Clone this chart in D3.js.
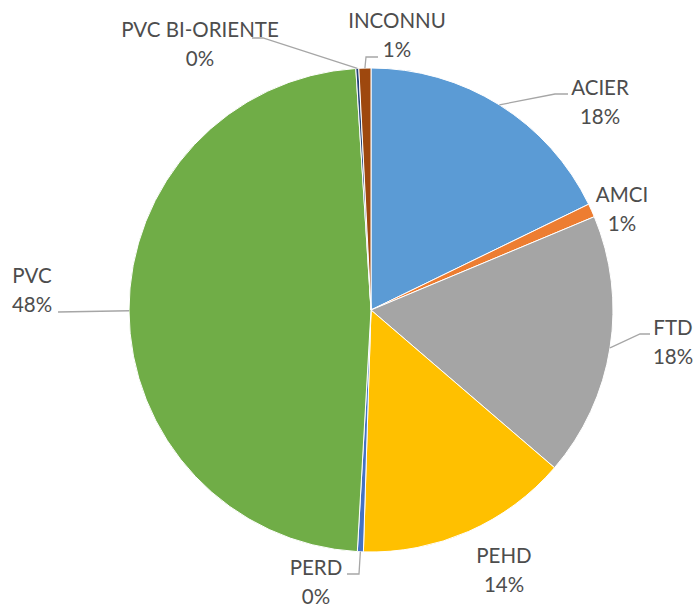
<!DOCTYPE html>
<html lang="fr">
<head>
<meta charset="UTF-8">
<title>Répartition par matériau</title>
<script src="https://d3js.org/d3.v7.min.js"></script>
<style>
  body { margin: 0; background: #fff; }
  text { font-family: Lato, "Liberation Sans", sans-serif; font-size: 20.5px; fill: #4d4d4d; }
</style>
</head>
<body>
<svg id="chart" width="696" height="608"></svg>
<script>
// données (part en %)
const categories = ["ACIER", "AMCI", "FTD", "PEHD", "PERD", "PVC", "PVC BI-ORIENTE", "INCONNU"];
const values = [17.8, 0.9, 17.6, 14.2, 0.4, 48.1, 0.2, 0.8];
const colors = ["#5B9BD5", "#ED7D31", "#A5A5A5", "#FFC000", "#4472C4", "#70AD47", "#264478", "#9E480E"];

// position des étiquettes (centre du texte, ligne de base de la 1re ligne) et coude du trait
const labelPos = [
  { x: 600, y: 95, elbow: [[555, 94], [568, 94]] },
  { x: 622, y: 202, elbow: null },
  { x: 673, y: 335, elbow: [[640, 334], [650, 334]] },
  { x: 504, y: 563, elbow: null },
  { x: 316, y: 575, elbow: [[359, 574], [347, 574]] },
  { x: 32, y: 283, elbow: [[58, 312]] },
  { x: 200, y: 37, elbow: [[263, 38], [252, 38]] },
  { x: 397, y: 28, elbow: [[366, 57], [378, 57]] }
];

const svg = d3.select("#chart");
const cx = 371, cy = 310, radius = 242;
const data = categories.map((c, i) => ({ name: c, value: values[i], i }));

const pie = d3.pie().sort(null).value(d => d.value);
const arc = d3.arc().innerRadius(0).outerRadius(radius);
const arcs = pie(data);

const g = svg.append("g").attr("transform", `translate(${cx},${cy})`);

g.selectAll("path")
  .data(arcs)
  .enter().append("path")
  .attr("d", arc)
  .attr("fill", d => colors[d.data.i])
  .attr("stroke", "#fff")
  .attr("stroke-width", 1);

// traits de rappel
const line = d3.line();
arcs.forEach(a => {
  const lp = labelPos[a.data.i];
  if (!lp.elbow) return;
  const mid = (a.startAngle + a.endAngle) / 2;
  const start = [cx + radius * Math.sin(mid), cy - radius * Math.cos(mid)];
  svg.append("path")
    .attr("d", line([start, ...lp.elbow]))
    .attr("fill", "none")
    .attr("stroke", "#A6A6A6")
    .attr("stroke-width", 1.3);
});

// étiquettes
const fmt = v => Math.round(v) + "%";
const labels = svg.selectAll("text.lbl")
  .data(data)
  .enter().append("text")
  .attr("class", "lbl")
  .attr("text-anchor", "middle");
labels.append("tspan")
  .attr("x", d => labelPos[d.i].x)
  .attr("y", d => labelPos[d.i].y)
  .text(d => d.name);
labels.append("tspan")
  .attr("x", d => labelPos[d.i].x)
  .attr("y", d => labelPos[d.i].y + 29)
  .text(d => fmt(d.value));
</script>
</body>
</html>
